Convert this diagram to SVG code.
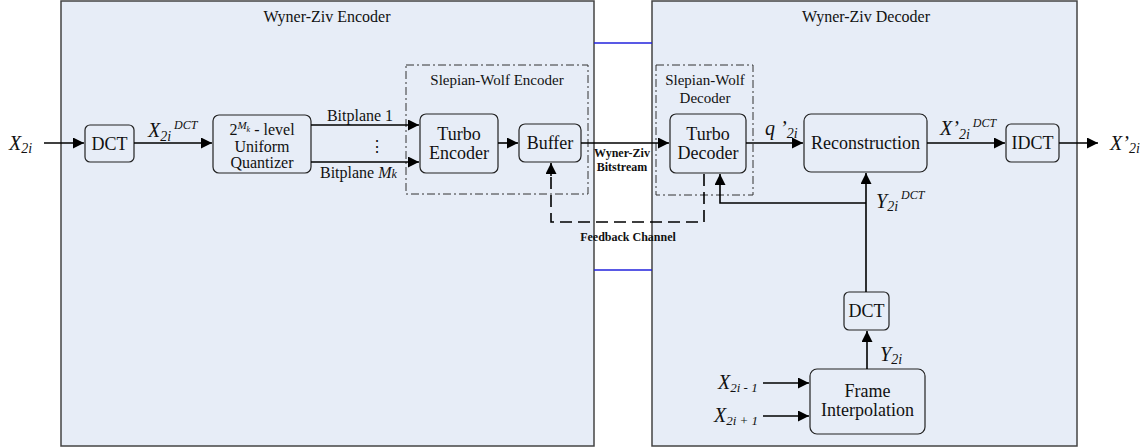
<svg xmlns="http://www.w3.org/2000/svg" width="1146" height="448" viewBox="0 0 1146 448" font-family="'Liberation Serif', 'Times New Roman', serif">
<defs>
<marker id="ah" viewBox="0 0 10 10" refX="10" refY="5" markerWidth="11" markerHeight="11" markerUnits="userSpaceOnUse" orient="auto"><path d="M0,0 L10,5 L0,10 Z" fill="#000"/></marker>
<style>
.panel{fill:#e7edf7;stroke:#444;stroke-width:1.5}
.blk{fill:#e7edf7;stroke:#222;stroke-width:1.2}
.sw{fill:none;stroke:#333;stroke-width:1;stroke-dasharray:8,3,2,3}
.ln{fill:none;stroke:#000;stroke-width:1.6}
.fb{fill:none;stroke:#000;stroke-width:1.6;stroke-dasharray:12,6}
.blue{stroke:#2222dd;stroke-width:1.5}
text{font-family:'Liberation Serif','Times New Roman',serif;fill:#111}
.t{font-size:18px;text-anchor:middle}
.q{font-size:16px;text-anchor:middle}
.h{font-size:16px;text-anchor:middle}
.s{font-size:15px;text-anchor:middle}
.b{font-size:12px;font-weight:bold;text-anchor:middle}
.m{font-size:20px;font-style:italic}
.p{font-size:16px}
</style>
</defs>
<g id="encoder-panel"><rect class="panel" x="61" y="1" width="533" height="445"/><text class="h" x="327" y="22">Wyner-Ziv Encoder</text></g>
<g id="decoder-panel"><rect class="panel" x="652" y="1" width="425" height="445"/><text class="h" x="866" y="22">Wyner-Ziv Decoder</text></g>
<g id="links"><line class="blue" x1="594" y1="43" x2="652" y2="43"/><line class="blue" x1="594" y1="270" x2="652" y2="270"/></g>
<g id="sw-encoder"><rect class="sw" x="406" y="65" width="182" height="129"/><text class="s" x="497" y="85">Slepian-Wolf Encoder</text></g>
<g id="sw-decoder"><rect class="sw" x="656" y="65" width="97" height="130"/><text class="s" x="705" y="85">Slepian-Wolf</text><text class="s" x="705" y="103">Decoder</text></g>
<g id="dct1"><rect class="blk" x="85" y="125" width="49" height="37" rx="5"/><text class="t" x="109.5" y="150">DCT</text></g>
<g id="quantizer"><rect class="blk" x="213" y="115" width="98" height="58" rx="6"/><text class="q" x="262" y="135">2<tspan font-size="11" font-style="italic" dy="-6">M</tspan><tspan font-size="8" font-style="italic" dy="3">k</tspan><tspan dy="3"> - level</tspan></text><text class="q" x="262" y="152">Uniform</text><text class="q" x="262" y="168">Quantizer</text></g>
<g id="turbo-encoder"><rect class="blk" x="420" y="114" width="78" height="59" rx="6"/><text class="t" x="459" y="140">Turbo</text><text class="t" x="459" y="159">Encoder</text></g>
<g id="buffer"><rect class="blk" x="519" y="124" width="62" height="38" rx="6"/><text class="t" x="550" y="149">Buffer</text></g>
<g id="turbo-decoder"><rect class="blk" x="670" y="114" width="76" height="59" rx="6"/><text class="t" x="708" y="140">Turbo</text><text class="t" x="708" y="159">Decoder</text></g>
<g id="reconstruction"><rect class="blk" x="804" y="114" width="123" height="58" rx="7"/><text class="t" x="865.5" y="149">Reconstruction</text></g>
<g id="idct"><rect class="blk" x="1006" y="124" width="53" height="38" rx="5"/><text class="t" x="1032.5" y="149">IDCT</text></g>
<g id="dct2"><rect class="blk" x="844" y="292" width="45" height="38" rx="5"/><text class="t" x="866.5" y="317">DCT</text></g>
<g id="frame-interp"><rect class="blk" x="810" y="369" width="115" height="65" rx="7"/><text class="t" x="867.5" y="397">Frame</text><text class="t" x="867.5" y="416">Interpolation</text></g>
<g id="connectors">
<line class="ln" x1="44" y1="143" x2="84" y2="143" marker-end="url(#ah)"/>
<line class="ln" x1="134" y1="143" x2="212" y2="143" marker-end="url(#ah)"/>
<line class="ln" x1="311" y1="125" x2="419" y2="125" marker-end="url(#ah)"/>
<line class="ln" x1="311" y1="162" x2="419" y2="162" marker-end="url(#ah)"/>
<line class="ln" x1="498" y1="143" x2="518" y2="143" marker-end="url(#ah)"/>
<line class="ln" x1="581" y1="143" x2="669" y2="143" marker-end="url(#ah)"/>
<line class="ln" x1="746" y1="143" x2="803" y2="143" marker-end="url(#ah)"/>
<line class="ln" x1="927" y1="143" x2="1005" y2="143" marker-end="url(#ah)"/>
<line class="ln" x1="1059" y1="143" x2="1098" y2="143" marker-end="url(#ah)"/>
<polyline class="fb" points="704,174 704,222 551,222 551,174"/>
<line class="ln" x1="551" y1="176" x2="551" y2="163" marker-end="url(#ah)"/>
<line class="ln" x1="866" y1="292" x2="866" y2="173" marker-end="url(#ah)"/>
<polyline class="ln" points="866,203 720,203 720,174" marker-end="url(#ah)"/>
<line class="ln" x1="867" y1="369" x2="867" y2="331" marker-end="url(#ah)"/>
<line class="ln" x1="763" y1="383" x2="809" y2="383" marker-end="url(#ah)"/>
<line class="ln" x1="763" y1="416" x2="809" y2="416" marker-end="url(#ah)"/>
</g>
<g id="labels">
<text class="m" x="9" y="150">X<tspan font-size="14" dy="3">2i</tspan></text>
<text class="m" x="148" y="137">X<tspan font-size="14" dy="4">2i</tspan><tspan font-size="12" dy="-12"> DCT</tspan></text>
<text class="p" x="360" y="121" text-anchor="middle">Bitplane 1</text>
<text class="p" x="377" y="152" font-size="18" text-anchor="middle">⋮</text>
<text class="p" x="320" y="178">Bitplane <tspan font-style="italic">M</tspan><tspan font-style="italic" font-size="12">k</tspan></text>
<text class="b" x="622" y="157">Wyner-Ziv</text>
<text class="b" x="622" y="171">Bitstream</text>
<text class="b" x="628" y="241">Feedback Channel</text>
<text class="m" x="765" y="135">q ’<tspan font-size="14" dy="3">2i</tspan></text>
<text class="m" x="940" y="135">X’<tspan font-size="14" dy="4">2i</tspan><tspan font-size="12" dy="-12"> DCT</tspan></text>
<text class="m" x="1110" y="150">X’<tspan font-size="14" dy="3">2i</tspan></text>
<text class="m" x="876" y="208">Y<tspan font-size="14" dy="3">2i</tspan><tspan font-size="12" dy="-12"> DCT</tspan></text>
<text class="m" x="880" y="361">Y<tspan font-size="14" dy="3">2i</tspan></text>
<text class="m" x="718" y="389">X<tspan font-size="13" dy="3">2i - 1</tspan></text>
<text class="m" x="714" y="422">X<tspan font-size="13" dy="3">2i + 1</tspan></text>
</g>
</svg>
